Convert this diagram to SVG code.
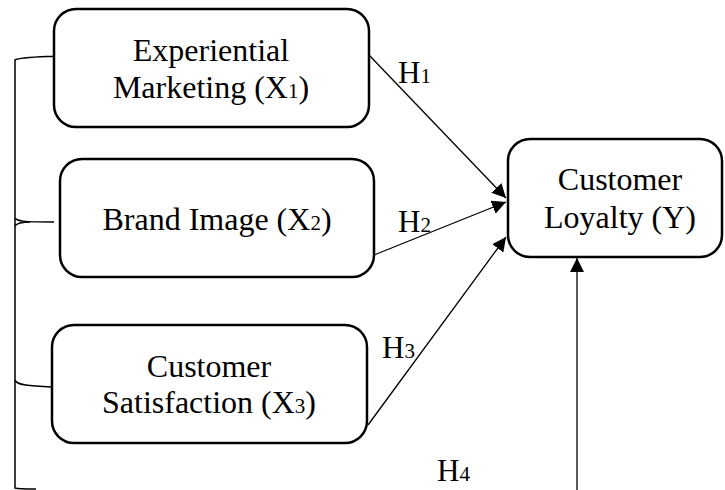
<svg xmlns="http://www.w3.org/2000/svg" width="725" height="490" viewBox="0 0 725 490">
<defs>
<style>
.box{fill:#fff;stroke:#000;stroke-width:2.5}
.t{font-family:"Liberation Serif","Times New Roman",serif;font-size:32px;fill:#000;text-anchor:middle}
.h{font-family:"Liberation Serif","Times New Roman",serif;font-size:31px;fill:#000}
.sub{font-size:21px}
.c{fill:none;stroke:#000;stroke-width:1.3}
.br{fill:none;stroke:#000;stroke-width:1.5}
</style>
<marker id="ah" viewBox="0 0 10 10" refX="10" refY="5" markerWidth="14" markerHeight="14" markerUnits="userSpaceOnUse" orient="auto">
<path d="M0,0 L10,5 L0,10 Z" fill="#000"/>
</marker>
</defs>
<rect width="725" height="490" fill="#fff"/>
<g id="bracket">
<path class="br" d="M60,56 C40,57 20,57 15,60 L15,488 C18,489 28,489 36,489"/>
<path class="br" d="M15,218 C17,221 22,222 54,222"/>
<path class="br" d="M15,226 C17,223 22,222 30,222"/>
<path class="br" d="M15,380 C16,385 30,386 52,387"/>
</g>
<g id="connectors">
<line class="c" x1="369" y1="55" x2="506" y2="198" marker-end="url(#ah)"/>
<line class="c" x1="374" y1="255" x2="506" y2="202" marker-end="url(#ah)"/>
<line class="c" x1="368" y1="425" x2="506" y2="237" marker-end="url(#ah)"/>
<line class="c" x1="577" y1="490" x2="577" y2="258" marker-end="url(#ah)"/>
<text class="h" x="398" y="83">H<tspan class="sub">1</tspan></text>
<text class="h" x="398" y="232">H<tspan class="sub">2</tspan></text>
<text class="h" x="382" y="358">H<tspan class="sub">3</tspan></text>
<text class="h" x="437" y="481">H<tspan class="sub">4</tspan></text>
</g>
<g id="x1">
<rect class="box" x="54" y="9" width="315" height="118" rx="22"/>
<text class="t" x="211" y="61">Experiential</text>
<text class="t" x="211" y="98">Marketing (X<tspan class="sub">1</tspan>)</text>
</g>
<g id="x2">
<rect class="box" x="60" y="159" width="314" height="118" rx="22"/>
<text class="t" x="217" y="230">Brand Image (X<tspan class="sub">2</tspan>)</text>
</g>
<g id="x3">
<rect class="box" x="52" y="325" width="315" height="118" rx="22"/>
<text class="t" x="209" y="377">Customer</text>
<text class="t" x="209" y="413">Satisfaction (X<tspan class="sub">3</tspan>)</text>
</g>
<g id="y">
<rect class="box" x="508" y="139" width="214" height="118" rx="22"/>
<text class="t" x="620" y="190">Customer</text>
<text class="t" x="620" y="228">Loyalty (Y)</text>
</g>
</svg>
